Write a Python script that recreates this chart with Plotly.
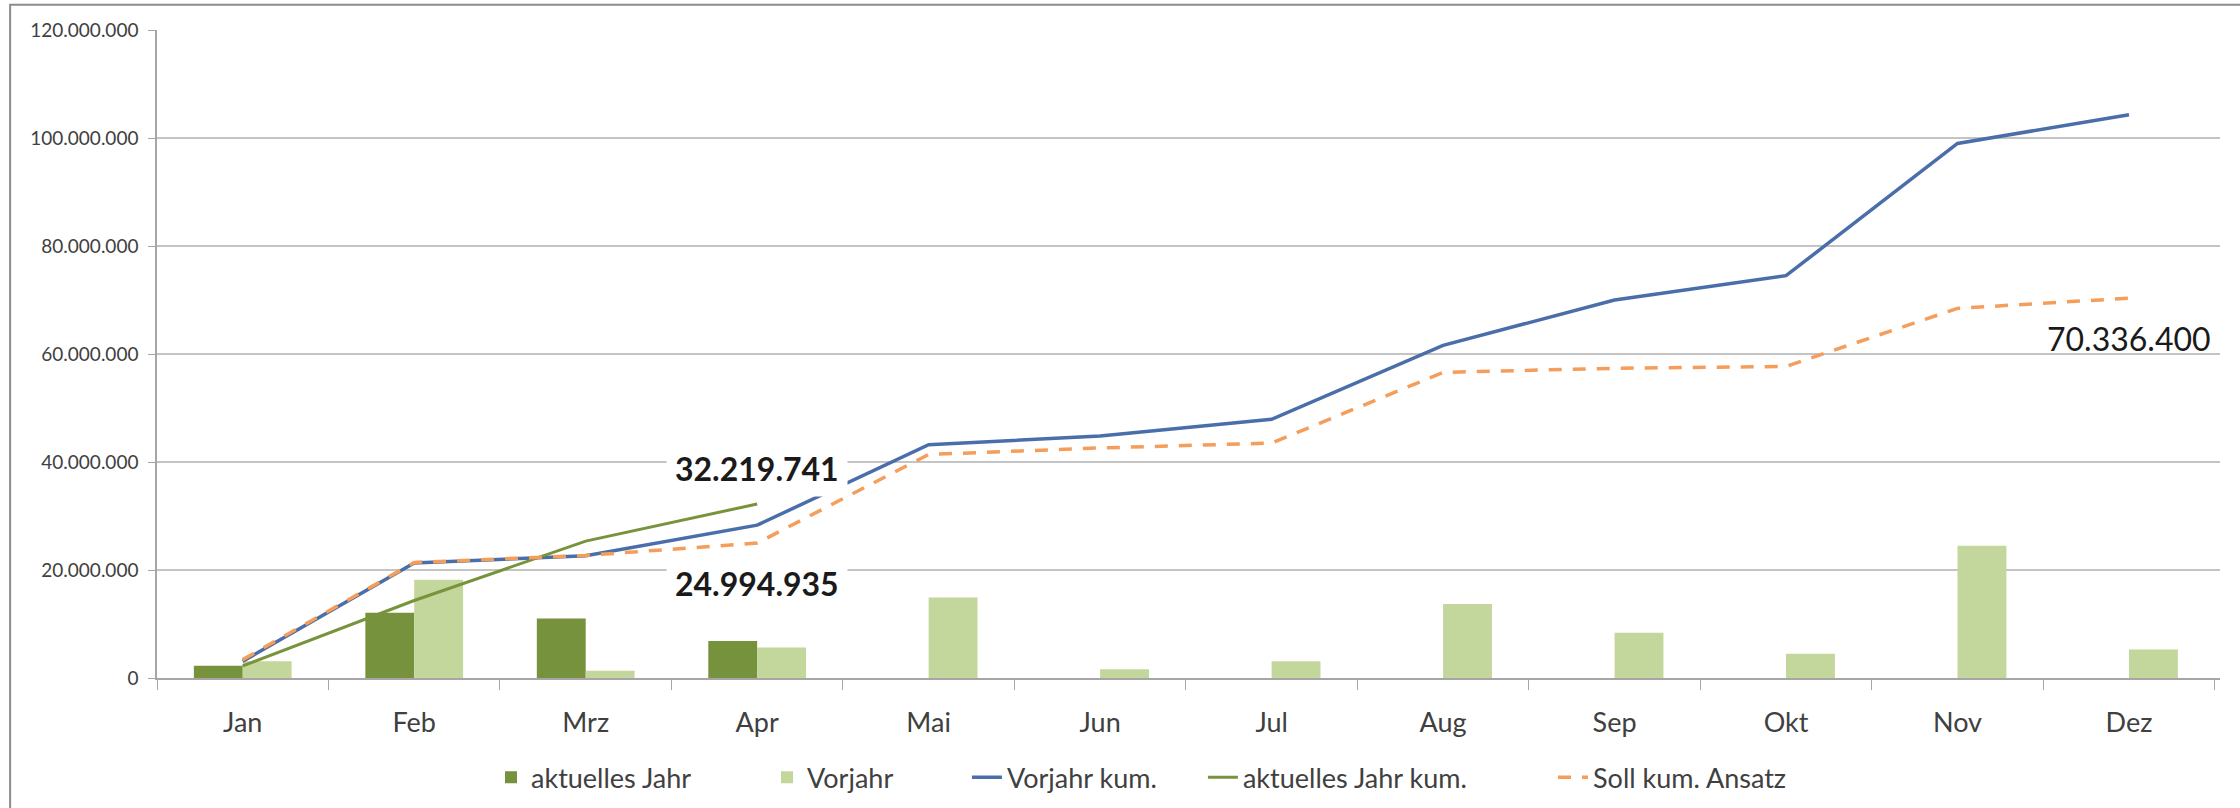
import plotly.graph_objects as go

months = ["Jan", "Feb", "Mrz", "Apr", "Mai", "Jun", "Jul", "Aug", "Sep", "Okt", "Nov", "Dez"]

aktuelles_jahr = [2250000, 12100000, 11000000, 6869741]
aktuelles_jahr_kum = [2250000, 14350000, 25350000, 32219741]

vorjahr = [3100000, 18200000, 1350000, 5650000, 14900000, 1600000,
           3100000, 13700000, 8400000, 4500000, 24500000, 5300000]
vorjahr_kum = [3100000, 21300000, 22650000, 28300000, 43200000, 44800000,
               47900000, 61600000, 70000000, 74500000, 99000000, 104300000]
soll_kum = [3400000, 21400000, 22700000, 24994935, 41400000, 42600000,
            43500000, 56600000, 57350000, 57700000, 68450000, 70336400]

FONT = "Lato"
TXT = "#404040"


def fmt(v):
    return f"{v:,.0f}".replace(",", ".")


fig = go.Figure()
fig.add_trace(go.Bar(x=months[:len(aktuelles_jahr)], y=aktuelles_jahr, name="aktuelles Jahr",
                     marker=dict(color="#76923C", line=dict(width=0)), legend="legend"))
fig.add_trace(go.Bar(x=months, y=vorjahr, name="Vorjahr",
                     marker=dict(color="#C3D69B", line=dict(width=0)), legend="legend2"))
fig.add_trace(go.Scatter(x=months, y=vorjahr_kum, name="Vorjahr kum.", mode="lines",
                         line=dict(color="#4A6EA9", width=3.5), legend="legend3"))
fig.add_trace(go.Scatter(x=months[:len(aktuelles_jahr_kum)], y=aktuelles_jahr_kum,
                         name="aktuelles Jahr kum.", mode="lines",
                         line=dict(color="#77933C", width=3), legend="legend4"))
fig.add_trace(go.Scatter(x=months, y=soll_kum, name="Soll kum. Ansatz", mode="lines",
                         line=dict(color="#F59D5A", width=3.5, dash="13px,11px"),
                         legend="legend5"))

annots = [
    dict(x=months[3], y=aktuelles_jahr_kum[3], text="<b>" + fmt(aktuelles_jahr_kum[3]) + "</b>",
         yshift=36, size=32, bg="white"),
    dict(x=months[3], y=soll_kum[3], text="<b>" + fmt(soll_kum[3]) + "</b>",
         yshift=-40, size=32, bg="white"),
    dict(x=months[11], y=soll_kum[11], text=fmt(soll_kum[11]), yshift=-40, size=32,
         bg="rgba(0,0,0,0)"),
]
for a in annots:
    fig.add_annotation(x=a["x"], y=a["y"], text=a["text"], yshift=a["yshift"],
                       showarrow=False, bgcolor=a["bg"], borderpad=8,
                       font=dict(family=FONT, size=a["size"], color="#1a1a1a"))

# outer chart frame (right and bottom edges lie outside the visible page)
fig.add_shape(type="rect", xref="paper", yref="paper",
              x0=-0.0712, x1=1.03, y0=-0.25, y1=1.039,
              line=dict(color="#8c8c8c", width=2), fillcolor="rgba(0,0,0,0)", layer="below")

leg_common = dict(orientation="h", xanchor="left", y=-0.154, yanchor="middle",
                  font=dict(family=FONT, size=27, color=TXT), bgcolor="rgba(0,0,0,0)")
leg_x = [0.1619, 0.2957, 0.3926, 0.5070, 0.6767]

fig.update_layout(
    width=2240, height=808,
    margin=dict(l=157, r=20, t=30, b=130, autoexpand=False),
    paper_bgcolor="white", plot_bgcolor="white",
    separators=",.",
    barmode="group", bargap=0.43, bargroupgap=0,
    font=dict(family=FONT, color=TXT),
    showlegend=True,
    legend=dict(x=leg_x[0], **leg_common),
    legend2=dict(x=leg_x[1], **leg_common),
    legend3=dict(x=leg_x[2], **leg_common),
    legend4=dict(x=leg_x[3], **leg_common),
    legend5=dict(x=leg_x[4], **leg_common),
    xaxis=dict(type="category", categoryorder="array", categoryarray=months,
               tickson="boundaries", ticks="outside", ticklen=10, tickcolor="#a6a6a6",
               showline=True, linecolor="#a6a6a6", linewidth=1.5,
               ticklabelstandoff=20, automargin=False,
               tickfont=dict(family=FONT, size=27, color=TXT), showgrid=False),
    yaxis=dict(range=[0, 120000000], tick0=0, dtick=20000000, tickformat=",.0f",
               showgrid=True, gridcolor="#c4c4c4", gridwidth=1.5,
               ticks="outside", ticklen=7, tickcolor="#a6a6a6",
               showline=True, linecolor="#a6a6a6", linewidth=1.5,
               zeroline=False, ticklabelstandoff=6, automargin=False,
               tickfont=dict(family=FONT, size=19, color=TXT)),
)

fig.write_html("out.html", config={"displayModeBar": False},
               post_script="document.body.style.margin='0px';document.body.style.overflow='hidden';")
